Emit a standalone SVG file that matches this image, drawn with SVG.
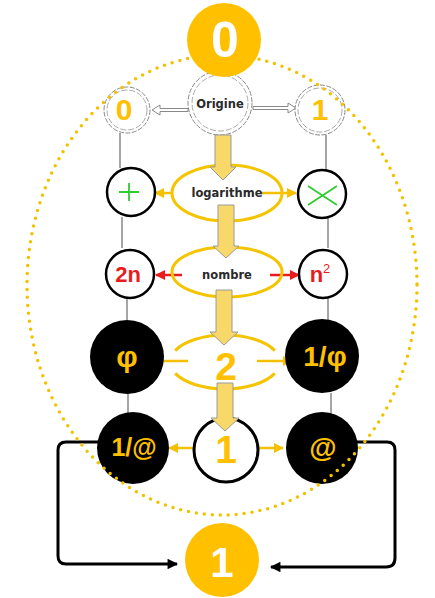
<svg xmlns="http://www.w3.org/2000/svg" width="435" height="598" viewBox="0 0 435 598">
<defs>
<style>
.txt{font-family:"Liberation Sans",Arial,sans-serif;font-weight:bold;text-anchor:middle}
.lbl{font-family:"DejaVu Sans","Liberation Sans",sans-serif;font-weight:bold;text-anchor:middle;font-size:11.5px;fill:#2a2a2a}
.yel{fill:#FFC000}
.ring{fill:#fff;stroke:#000;stroke-width:2.5}
.blk{fill:#000}
.ell{fill:none;stroke:#F5C400;stroke-width:3}
.gray{stroke:#888;stroke-width:1.5;fill:none}
.ya{stroke:#F5C000;stroke-width:2.5;fill:none;marker-end:url(#my)}
.ra{stroke:#E81C1C;stroke-width:2.5;fill:none;marker-end:url(#mr)}
.ka{stroke:#000;stroke-width:3;fill:none;marker-end:url(#mk)}
.block{fill:#F9D86A;stroke:#9a9a9a;stroke-width:1}
.hollow{fill:#fff;stroke:#888;stroke-width:1}
.dash1{fill:#fff;stroke:#888;stroke-width:1;stroke-dasharray:5 1.5}
.dash2{fill:none;stroke:#aaa;stroke-width:1;stroke-dasharray:6 2}
</style>
<marker id="my" viewBox="0 0 10 10" refX="9" refY="5" markerWidth="4" markerHeight="4" orient="auto"><path d="M0,0 L10,5 L0,10 Z" fill="#F5C000"/></marker>
<marker id="mr" viewBox="0 0 10 10" refX="9" refY="5" markerWidth="4" markerHeight="4" orient="auto"><path d="M0,0 L10,5 L0,10 Z" fill="#E81C1C"/></marker>
<marker id="mk" viewBox="0 0 10 10" refX="9" refY="5" markerWidth="4" markerHeight="3.5" orient="auto"><path d="M0,0 L10,5 L0,10 Z" fill="#000"/></marker>
</defs>
<rect width="435" height="598" fill="#fff"/>

<g id="connectors">
<line class="gray" x1="120" y1="133" x2="120" y2="168"/>
<line class="gray" x1="326" y1="135" x2="326" y2="170"/>
<line class="gray" x1="122" y1="217" x2="122" y2="248"/>
<line class="gray" x1="328" y1="218" x2="328" y2="248"/>
<line class="gray" x1="127" y1="297" x2="127" y2="320"/>
<line class="gray" x1="328" y1="297" x2="328" y2="320"/>
<line class="gray" x1="128" y1="393" x2="128" y2="414"/>
<line class="gray" x1="331" y1="393" x2="331" y2="414"/>
<polygon class="hollow" points="152,110 160,105 160,108.5 188,108.5 188,111.5 160,111.5 160,115"/>
<polygon class="hollow" points="296,108 288,103 288,106.5 253,106.5 253,109.5 288,109.5 288,113"/>
<line class="ya" x1="172" y1="193" x2="155" y2="193"/>
<line class="ya" x1="262" y1="193" x2="296" y2="193"/>
<line class="ra" x1="182" y1="275" x2="156" y2="275"/>
<line class="ra" x1="270" y1="275" x2="299" y2="275"/>
<line class="ya" x1="188" y1="361" x2="154" y2="361"/>
<line class="ya" x1="257" y1="361" x2="292" y2="361"/>
<line class="ya" x1="197" y1="448" x2="169" y2="448"/>
<line class="ya" x1="252" y1="448" x2="283" y2="448"/>
<path class="ka" d="M98,442 H66 Q58,442 58,450 V556 Q58,564 66,564 H177"/>
<path class="ka" d="M357,442 H387 Q395,442 395,450 V558 Q395,567 386,567 H271"/>
</g>

<g id="node-origine">
<circle class="dash1" cx="220" cy="103" r="32"/>
<circle class="dash2" cx="220" cy="103" r="28"/>
<text class="lbl" x="220" y="108" font-size="12">Origine</text>
</g>
<g id="node-zero">
<circle class="dash1" cx="127" cy="110" r="23"/>
<circle class="dash2" cx="127" cy="110" r="20"/>
<text class="txt yel" x="124" y="120" font-size="30">0</text>
</g>
<g id="node-one">
<circle class="dash1" cx="320" cy="110" r="25"/>
<circle class="dash2" cx="320" cy="110" r="22"/>
<text class="txt yel" x="320" y="120" font-size="30">1</text>
</g>

<g id="node-logarithme">
<ellipse class="ell" cx="227" cy="193" rx="55" ry="28"/>
<text class="lbl" x="227" y="197">logarithme</text>
</g>
<g id="node-plus">
<circle class="ring" cx="131" cy="192" r="24"/>
<path d="M119,192 H139 M129,183 V201" stroke="#2ECC2E" stroke-width="1.8"/>
</g>
<g id="node-times">
<circle class="ring" cx="322" cy="194" r="24"/>
<path d="M308,186 L337,205 M337,186 L308,205" stroke="#2ECC2E" stroke-width="1.8"/>
</g>

<g id="node-nombre">
<ellipse class="ell" cx="227" cy="272" rx="55" ry="25"/>
<text class="lbl" x="227" y="279">nombre</text>
</g>
<g id="node-2n">
<circle class="ring" cx="130" cy="274" r="24"/>
<text class="txt" x="128" y="282" font-size="22" fill="#E81C1C">2n</text>
</g>
<g id="node-n2">
<circle class="ring" cx="323" cy="274" r="24"/>
<text class="txt" x="320" y="282" font-size="22" fill="#E81C1C">n<tspan font-size="13" font-weight="normal" dy="-9">2</tspan></text>
</g>

<g id="node-two">
<path class="ell" d="M175.2,350.6 A55,27 0 0 1 274.8,350.6 M274.8,373.4 A55,27 0 0 1 175.2,373.4"/>
<text class="txt yel" x="226" y="380" font-size="39">2</text>
</g>
<g id="node-phi">
<circle class="blk" cx="127" cy="357" r="37"/>
<text class="txt yel" x="127" y="367" font-size="30">φ</text>
</g>
<g id="node-invphi">
<circle class="blk" cx="322" cy="356" r="37"/>
<text class="txt yel" x="325" y="366" font-size="28">1/φ</text>
</g>

<g id="node-center-one">
<circle cx="226" cy="450" r="32" fill="#fff" stroke="#000" stroke-width="3"/>
<text class="txt yel" x="226" y="463" font-size="39">1</text>
</g>
<g id="node-inv-at">
<circle class="blk" cx="133" cy="448" r="36"/>
<text class="txt yel" x="134" y="456" font-size="25">1/@</text>
</g>
<g id="node-at">
<circle class="blk" cx="322" cy="448" r="36"/>
<text class="txt yel" x="323" y="457" font-size="28">@</text>
</g>

<g id="block-arrows">
<path class="block" d="M215,135 H231 V167 H236 L223,180 L210,167 H215 Z"/>
<path class="block" d="M218,205 H234 V246 H239 L226,258 L213,246 H218 Z"/>
<path class="block" d="M216,290 H232 V332 H238 L224,345 L210,332 H216 Z"/>
<path class="block" d="M217,383 H233 V418 H239 L225,431 L211,418 H217 Z"/>
</g>

<g id="dotted-ellipse">
<ellipse cx="222" cy="285" rx="195" ry="230" fill="none" stroke="#F2C200" stroke-width="3.5" stroke-linecap="round" stroke-dasharray="0 8"/>
</g>

<g id="node-top-zero">
<circle class="yel" cx="224" cy="40" r="37"/>
<text class="txt" x="225" y="57" font-size="50" fill="#fff">0</text>
</g>
<g id="node-bottom-one">
<circle class="yel" cx="222" cy="560" r="37"/>
<text class="txt" x="222" y="577" font-size="42" fill="#fff">1</text>
</g>
</svg>
